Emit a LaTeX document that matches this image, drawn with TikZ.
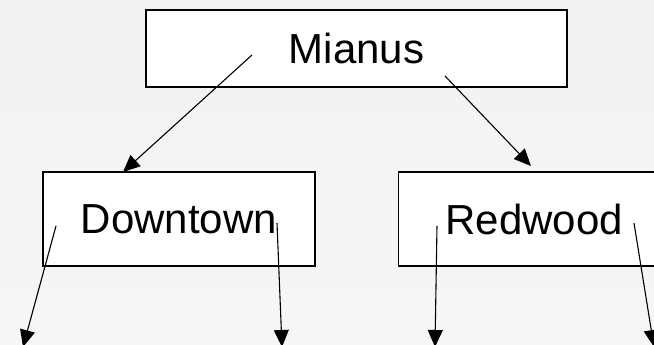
\documentclass[tikz,border=0pt]{standalone}
\usepackage{fontspec}
\setmainfont{Liberation Sans}
\usetikzlibrary{arrows.meta, positioning}

\begin{document}
\begin{tikzpicture}[x=1pt, y=-1pt,
block/.style={rectangle, text centered, inner sep=0pt, draw=black, line width=1.2pt,
fill=white, minimum width=272pt, minimum height=94pt, font=\fontsize{42}{48}\selectfont},
line/.style={draw, line width=1.1pt, -{Triangle[length=17pt, width=15pt]}}
]
\clip (0,0) rectangle (654,345);
\shade[top color=black!5, bottom color=black!3.5] (0,0) rectangle (654,345);

\node[block, minimum width=421pt, minimum height=77pt] (mianus) at (356.5,48.5) {Mianus};
\node[block] (downtown) at (179,219) {Downtown};
\node[block, right=82pt of downtown] (redwood) {Redwood};

% loose ends of the connectors
\coordinate (mianus-left) at (252,55);
\coordinate (mianus-right) at (445,76);
\coordinate (downtown-top) at (123,172);
\coordinate (redwood-top) at (531,166);
\coordinate (downtown-left) at (56,226);
\coordinate (downtown-right) at (277,223);
\coordinate (redwood-left) at (437,226);
\coordinate (redwood-right) at (634,223);
\coordinate (out-1) at (23,347);
\coordinate (out-2) at (282,347);
\coordinate (out-3) at (435,347);
\coordinate (out-4) at (654,347);

\path [line] (mianus-left) -- (downtown-top);
\path [line] (mianus-right) -- (redwood-top);
\path [line] (downtown-left) -- (out-1);
\path [line] (downtown-right) -- (out-2);
\path [line] (redwood-left) -- (out-3);
\path [line] (redwood-right) -- (out-4);
\end{tikzpicture}
\end{document}
